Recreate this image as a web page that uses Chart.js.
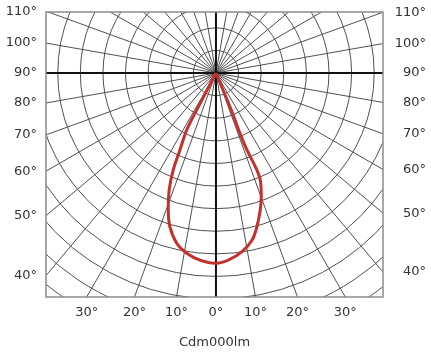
<!DOCTYPE html>
<html><head><meta charset="utf-8">
<script src="https://cdn.jsdelivr.net/npm/chart.js@4/dist/chart.umd.min.js"></script>
<style>html,body{margin:0;padding:0;background:#fff;}canvas{display:block;}</style>
</head><body>
<canvas id="c" width="431" height="354"></canvas>
<script>
// Light distribution curve: angle from nadir (deg, negative = left side) and intensity (in grid-ring units)
const curveAngles = [-27, -27.5, -27.2, -25.1, -23.8, -21.8, -19.2, -16.7, -13.0, -9.2, -4.9, 0, 3.9, 8.3, 12.2, 14.9, 17.9, 20.1, 22.5, 22.8, 21.9, 21.7, 22.5, 22];
const curveValues = [0, 1.85, 2.84, 3.76, 4.69, 5.58, 6.42, 7.10, 7.73, 8.08, 8.31, 8.42, 8.29, 7.99, 7.56, 7.04, 6.37, 5.83, 5.12, 4.50, 3.67, 2.72, 1.78, 0];
// Angle labels on the frame
const sideAngles = [110, 100, 90, 80, 70, 60, 50, 40];
const bottomAngles = [-30, -20, -10, 0, 10, 20, 30];
// Grid
const ringValues = [1, 2, 3, 4, 5, 6, 7, 8, 9, 10, 11, 12, 13];
const spokeAngles = [];
for (let d = 0; d < 360; d += 10) spokeAngles.push(d);
const unitLabel = 'Cdm000lm';

const xMin = -7.52, xMax = 7.39, yMin = -9.91, yMax = 2.70;
const rad = d => d * Math.PI / 180;
const FONT = {family: 'DejaVu Sans', size: 13};
const TXT = '#333';

const polarGrid = {
  id: 'polarGrid',
  beforeDatasetsDraw(chart) {
    const {ctx, chartArea: a, scales: {x, y}} = chart;
    const cx = x.getPixelForValue(0), cy = y.getPixelForValue(0);
    const unit = x.getPixelForValue(1) - cx;
    ctx.save();
    ctx.beginPath(); ctx.rect(a.left, a.top, a.right - a.left, a.bottom - a.top); ctx.clip();
    ctx.strokeStyle = '#505050'; ctx.lineWidth = 1;
    ringValues.forEach(r => { ctx.beginPath(); ctx.arc(cx, cy, r * unit, 0, Math.PI * 2); ctx.stroke(); });
    const far = 20;
    spokeAngles.forEach(d => {
      if (d % 90 === 0) return;
      const t = rad(d);
      ctx.beginPath(); ctx.moveTo(cx, cy);
      ctx.lineTo(x.getPixelForValue(far * Math.sin(t)), y.getPixelForValue(-far * Math.cos(t)));
      ctx.stroke();
    });
    ctx.strokeStyle = '#111'; ctx.lineWidth = 2;
    ctx.beginPath();
    ctx.moveTo(a.left, cy); ctx.lineTo(a.right, cy);
    ctx.moveTo(cx, a.top); ctx.lineTo(cx, a.bottom);
    ctx.stroke();
    ctx.restore();
    ctx.save();
    ctx.strokeStyle = '#8c8c8c'; ctx.lineWidth = 1.5;
    ctx.strokeRect(a.left, a.top, a.right - a.left, a.bottom - a.top);
    ctx.restore();
  }
};

const points = curveAngles.map((a, i) => ({x: curveValues[i] * Math.sin(rad(a)), y: -curveValues[i] * Math.cos(rad(a))}));

const noPad = s => { s.paddingTop = 0; s.paddingBottom = 0; s.paddingLeft = 0; s.paddingRight = 0; };

new Chart(document.getElementById('c'), {
  type: 'scatter',
  data: {datasets: [{data: points, showLine: true, borderColor: '#c4302b', borderWidth: 3, pointRadius: 0, tension: 0.35, fill: false}]},
  options: {
    responsive: false, animation: false,
    layout: {padding: {top: 12, right: 5, left: 0, bottom: 0}},
    plugins: {legend: {display: false}, tooltip: {enabled: false}},
    scales: {
      x: {
        type: 'linear', position: 'bottom', min: xMin, max: xMax, display: true,
        afterBuildTicks: s => { s.ticks = bottomAngles.map(a => ({value: -yMin * Math.tan(rad(a))})); },
        afterFit: s => { s.height = 57; noPad(s); },
        grid: {display: false, drawTicks: false}, border: {display: false},
        ticks: {autoSkip: false, maxRotation: 0, minRotation: 0, padding: 8, color: TXT, font: FONT,
          callback: (v, i) => Math.abs(bottomAngles[i]) + '°'},
        title: {display: true, text: unitLabel, color: TXT, font: FONT, padding: {top: 0, bottom: 4}}
      },
      y: {
        type: 'linear', position: 'left', min: yMin, max: yMax, display: true,
        afterBuildTicks: s => { s.ticks = sideAngles.map(a => ({value: xMin * Math.cos(rad(a)) / Math.sin(rad(a))})); },
        afterFit: s => { s.width = 46; noPad(s); },
        grid: {display: false, drawTicks: false}, border: {display: false},
        ticks: {autoSkip: false, padding: 9, color: TXT, font: FONT, callback: (v, i) => sideAngles[i] + '°'}
      },
      y2: {
        type: 'linear', position: 'right', min: yMin, max: yMax, display: true,
        afterBuildTicks: s => { s.ticks = sideAngles.map(a => ({value: -xMax * Math.cos(rad(a)) / Math.sin(rad(a))})); },
        afterFit: s => { s.width = 43; noPad(s); },
        grid: {display: false, drawTicks: false}, border: {display: false},
        ticks: {autoSkip: false, crossAlign: 'far', padding: 6, color: TXT, font: FONT, callback: (v, i) => sideAngles[i] + '°'}
      }
    }
  },
  plugins: [polarGrid]
});
</script>
</body></html>
